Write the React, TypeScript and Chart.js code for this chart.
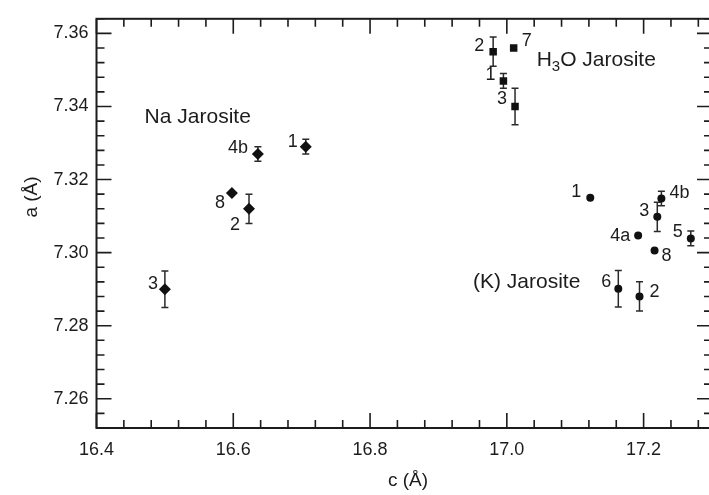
import React, { useEffect, useRef } from "react";
import { Chart, registerables } from "chart.js";

Chart.register(...registerables);

// ---- data ----
const naLabels = ["3", "4b", "1", "8", "2"];
const naC = [16.5, 16.636, 16.706, 16.598, 16.623];
const naA = [7.29, 7.327, 7.329, 7.3163, 7.312];
const naErr = [0.005, 0.002, 0.002, 0, 0.004];

const h3oLabels = ["2", "7", "1", "3"];
const h3oC = [16.98, 17.01, 16.995, 17.012];
const h3oA = [7.355, 7.356, 7.347, 7.34];
const h3oErr = [0.004, 0, 0.002, 0.005];

const kLabels = ["1", "4b", "3", "4a", "5", "8", "6", "2"];
const kC = [17.122, 17.226, 17.22, 17.192, 17.269, 17.216, 17.163, 17.194];
const kA = [7.315, 7.3148, 7.3098, 7.3047, 7.3039, 7.3006, 7.2901, 7.288];
const kErr = [0, 0.002, 0.004, 0, 0.002, 0, 0.005, 0.004];

const xTickValues = [16.4, 16.6, 16.8, 17.0, 17.2];
const yTickValues = [7.26, 7.28, 7.3, 7.32, 7.34, 7.36];
const xTitle = "c (Å)";
const yTitle = "a (Å)";
const groupNames = ["Na Jarosite", "H₃O Jarosite", "(K) Jarosite"];

// ---- layout / style (not data) ----
const X_MIN = 16.4, X_MAX = 17.3, Y_MIN = 7.252, Y_MAX = 7.364;
const X_MINOR = 0.04, Y_MINOR = 0.004;
const naOff = [[-12, -5], [-20, -6], [-13, -5], [-12, 10], [-14, 16]];
const h3oOff = [[-14, -6], [13, -7], [-13, -6], [-13, -7]];
const kOff = [[-14, -6], [18, -6], [-13, -6], [-18, 1], [-13, -6], [12, 6], [-12, -7], [15, -4]];
const groupPos = [
  [16.548, 7.3372, "center"],
  [17.0436, 7.3527, "left"],
  [17.029, 7.2919, "center"],
];
const FONT = "'Liberation Sans', Arial, sans-serif";
const INK = "#1c1c1c";

const errs = [naErr, h3oErr, kErr];
const pLabels = [naLabels, h3oLabels, kLabels];
const offs = [naOff, h3oOff, kOff];

const decor = {
  id: "decor",
  beforeDatasetsDraw(chart: any) {
    const ctx = chart.ctx;
    const x = chart.scales.x, y = chart.scales.y;
    ctx.save();
    ctx.strokeStyle = "#2a2a2a";
    ctx.lineWidth = 1.5;
    chart.data.datasets.forEach((ds: any, di: number) => {
      ds.data.forEach((p: any, i: number) => {
        const e = errs[di][i];
        if (!e) return;
        const px = x.getPixelForValue(p.x);
        const y1 = y.getPixelForValue(p.y - e);
        const y2 = y.getPixelForValue(p.y + e);
        ctx.beginPath();
        ctx.moveTo(px, y1); ctx.lineTo(px, y2);
        ctx.moveTo(px - 3.5, y1); ctx.lineTo(px + 3.5, y1);
        ctx.moveTo(px - 3.5, y2); ctx.lineTo(px + 3.5, y2);
        ctx.stroke();
      });
    });
    ctx.restore();
  },
  afterDatasetsDraw(chart: any) {
    const ctx = chart.ctx;
    const x = chart.scales.x, y = chart.scales.y;
    const a = chart.chartArea;
    ctx.save();
    ctx.strokeStyle = INK;
    ctx.lineWidth = 2;
    ctx.strokeRect(a.left, a.top, a.right - a.left, a.bottom - a.top);
    ctx.lineWidth = 1.6;
    ctx.beginPath();
    for (let i = 0; ; i++) {
      const v = X_MIN + i * X_MINOR;
      if (v > X_MAX + 1e-9) break;
      const r = (v - X_MIN) / 0.2;
      const major = Math.abs(r - Math.round(r)) < 1e-6;
      const len = major ? 15 : 8;
      const px = x.getPixelForValue(v);
      ctx.moveTo(px, a.bottom); ctx.lineTo(px, a.bottom - len);
      ctx.moveTo(px, a.top); ctx.lineTo(px, a.top + len);
    }
    for (let i = 0; ; i++) {
      const v = Y_MIN + i * Y_MINOR;
      if (v > Y_MAX + 1e-9) break;
      const r = (v - 7.26) / 0.02;
      const major = Math.abs(r - Math.round(r)) < 1e-6;
      const len = major ? 15 : 8;
      const py = y.getPixelForValue(v);
      ctx.moveTo(a.left, py); ctx.lineTo(a.left + len, py);
      ctx.moveTo(a.right, py); ctx.lineTo(a.right - len, py);
    }
    ctx.stroke();

    // point labels
    ctx.fillStyle = INK;
    ctx.font = `18px ${FONT}`;
    ctx.textAlign = "center";
    ctx.textBaseline = "middle";
    chart.data.datasets.forEach((ds: any, di: number) => {
      ds.data.forEach((p: any, i: number) => {
        const px = x.getPixelForValue(p.x) + offs[di][i][0];
        const py = y.getPixelForValue(p.y) + offs[di][i][1];
        ctx.fillText(pLabels[di][i], px, py);
      });
    });

    // group labels
    ctx.font = `21px ${FONT}`;
    ctx.textAlign = "center";
    ctx.fillText(groupNames[0], x.getPixelForValue(groupPos[0][0]), y.getPixelForValue(groupPos[0][1]));
    ctx.fillText(groupNames[2], x.getPixelForValue(groupPos[2][0]), y.getPixelForValue(groupPos[2][1]));
    // H3O with subscript
    {
      ctx.textAlign = "left";
      let gx = x.getPixelForValue(groupPos[1][0]);
      const gy = y.getPixelForValue(groupPos[1][1]);
      ctx.font = `21px ${FONT}`;
      ctx.fillText("H", gx, gy);
      gx += ctx.measureText("H").width;
      ctx.font = `15px ${FONT}`;
      ctx.fillText("3", gx, gy + 7);
      gx += ctx.measureText("3").width;
      ctx.font = `21px ${FONT}`;
      ctx.fillText("O Jarosite", gx, gy);
    }

    // axis titles
    ctx.font = `19px ${FONT}`;
    ctx.textAlign = "center";
    ctx.fillText(xTitle, 408, 481);
    ctx.save();
    ctx.translate(32, 197);
    ctx.rotate(-Math.PI / 2);
    ctx.fillText(yTitle, 0, 0);
    ctx.restore();
    ctx.restore();
  },
};

function toPts(xs: number[], ys: number[]) {
  return xs.map((v, i) => ({ x: v, y: ys[i] }));
}

export default function App() {
  const ref = useRef<HTMLCanvasElement | null>(null);
  useEffect(() => {
    if (!ref.current) return;
    const chart = new Chart(ref.current, {
      type: "scatter",
      data: {
        datasets: [
          { label: groupNames[0], data: toPts(naC, naA), pointStyle: "rectRot", pointRadius: 6, backgroundColor: "#111", borderWidth: 0 },
          { label: groupNames[1], data: toPts(h3oC, h3oA), pointStyle: "rect", pointRadius: 5.3, backgroundColor: "#111", borderWidth: 0 },
          { label: groupNames[2], data: toPts(kC, kA), pointStyle: "circle", pointRadius: 4, backgroundColor: "#111", borderWidth: 0 },
        ],
      },
      options: {
        responsive: false,
        animation: false,
        devicePixelRatio: 1,
        layout: { padding: { top: 7.5, right: 8, left: 0, bottom: 0 } },
        plugins: { legend: { display: false }, tooltip: { enabled: false } },
        scales: {
          x: {
            type: "linear",
            min: X_MIN,
            max: X_MAX,
            grid: { display: false, drawTicks: false },
            border: { display: false },
            afterBuildTicks: (s: any) => { s.ticks = xTickValues.map((v) => ({ value: v })); },
            afterFit: (s: any) => { s.height = 67; },
            ticks: {
              padding: 11,
              color: INK,
              font: { family: FONT, size: 18 },
              maxRotation: 0,
              autoSkip: false,
              callback: (v: any) => Number(v).toFixed(1),
            },
          },
          y: {
            type: "linear",
            min: Y_MIN,
            max: Y_MAX,
            grid: { display: false, drawTicks: false },
            border: { display: false },
            afterBuildTicks: (s: any) => { s.ticks = yTickValues.map((v) => ({ value: v })); },
            afterFit: (s: any) => { s.width = 96.5; },
            ticks: {
              padding: 8,
              color: INK,
              font: { family: FONT, size: 18 },
              autoSkip: false,
              callback: (v: any) => Number(v).toFixed(2),
            },
          },
        },
      },
      plugins: [decor],
    });
    return () => chart.destroy();
  }, []);
  return (
    <div style={{ position: "fixed", left: 0, top: 0, width: 709, height: 495, overflow: "hidden", background: "#fff" }}>
      <canvas ref={ref} width={720} height={495} style={{ width: 720, height: 495, display: "block" }} />
    </div>
  );
}
